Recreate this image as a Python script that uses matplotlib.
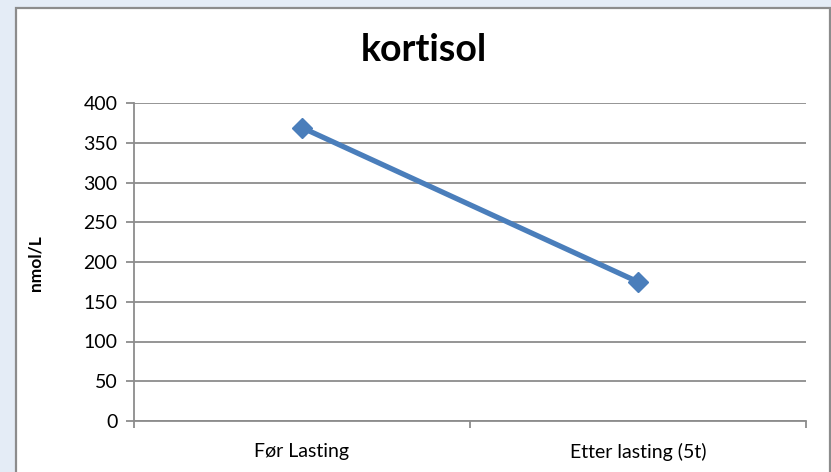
import matplotlib.pyplot as plt
from matplotlib.patches import Rectangle

# data
categories = ['Før Lasting', 'Etter lasting (5t)']
kortisol = [369, 175]
y_ticks = [0, 50, 100, 150, 200, 250, 300, 350, 400]

plt.rcParams['font.family'] = ['Lato', 'DejaVu Sans']

fig = plt.figure(figsize=(8.31, 4.72), dpi=100)
fig.patch.set_facecolor('#e4ecf6')

# white chart box with grey border, kept behind the axes
box = Rectangle((15.5 / 831, -0.05), (829.5 - 15.5) / 831, (472 - 8) / 472 + 0.05,
                transform=fig.transFigure, facecolor='white', edgecolor='#8c8c8c',
                linewidth=1.6, zorder=-10)
fig.patches.append(box)

ax = fig.add_axes([134 / 831, (472 - 421) / 472, (806 - 134) / 831, (421 - 103) / 472])
ax.set_facecolor('none')

x = [0.5, 1.5]
ax.plot(x, kortisol, color='#4a7ebb', linewidth=3.8, marker='D', markersize=10,
        solid_capstyle='butt', zorder=3)

ax.set_xlim(0, 2)
ax.set_ylim(0, 400)
ax.set_yticks(y_ticks)
ax.yaxis.grid(True, color='#8c8c8c', linewidth=1.3)
ax.set_axisbelow(True)

ax.set_xticks([0, 1, 2])
ax.set_xticklabels([])
ax.set_xticks(x, minor=True)
ax.set_xticklabels(categories, minor=True, fontsize=14)
ax.tick_params(axis='x', which='minor', length=0, pad=16)
ax.tick_params(axis='x', which='major', length=5, color='#8c8c8c', width=1.3)
ax.tick_params(axis='y', length=6, color='#8c8c8c', width=1.3, labelsize=14, pad=6)

for side in ['top', 'right']:
    ax.spines[side].set_visible(False)
for side in ['left', 'bottom']:
    ax.spines[side].set_color('#8c8c8c')
    ax.spines[side].set_linewidth(1.3)

fig.text(424 / 831, 1 - 50 / 472, 'kortisol', fontsize=27, fontweight='bold',
         ha='center', va='center')
fig.text(36 / 831, 1 - 263 / 472, 'nmol/L', rotation=90, fontsize=12.5, fontweight='bold',
         ha='center', va='center')

fig.savefig('out.png', dpi=100, facecolor=fig.get_facecolor())
